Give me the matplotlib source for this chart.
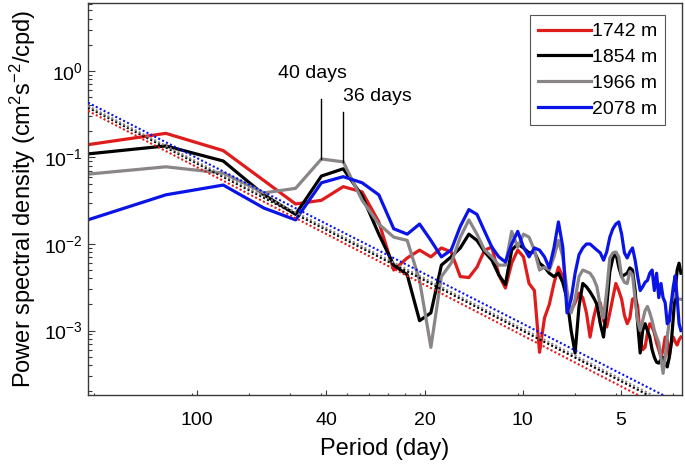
import numpy as np
import matplotlib
matplotlib.use("Agg")
import matplotlib.pyplot as plt
from matplotlib.ticker import FixedLocator, FixedFormatter, NullFormatter

plt.rcParams["font.family"] = ["Liberation Sans", "DejaVu Sans"]
plt.rcParams["mathtext.fontset"] = "custom"
plt.rcParams["mathtext.rm"] = "Liberation Sans"
plt.rcParams["mathtext.it"] = "Liberation Sans:italic"
plt.rcParams["mathtext.bf"] = "Liberation Sans:bold"

# spectral grid: k / 240 cycles per day (k = 1..76)
freq = np.arange(1, 77) / 240.0

depths = ["1742 m", "1854 m", "1966 m", "2078 m"]
colors = ["#e01b1b", "#000000", "#8a8587", "#0a14e6"]

psd_1742 = [0.13, 0.19, 0.12, 0.054, 0.029, 0.032, 0.046, 0.040, 0.018, 0.0050,
            0.0069, 0.0085, 0.0071, 0.0090, 0.0081, 0.0042, 0.0041, 0.0054, 0.0085, 0.0092,
            0.0044, 0.0031, 0.0060, 0.0085, 0.0071, 0.0035, 0.0029, 0.00056, 0.0014, 0.0020,
            0.0035, 0.0054, 0.0042, 0.0024, 0.0017, 0.0021, 0.0027, 0.0024, 0.0016, 0.00084,
            0.0014, 0.0020, 0.0021, 0.0013, 0.0011, 0.0016, 0.0024, 0.0035, 0.0029, 0.0023,
            0.0015, 0.0012, 0.0014, 0.0023, 0.0024, 0.0019, 0.00084, 0.00060, 0.00064, 0.00094,
            0.0012, 0.0011, 0.00094, 0.00072, 0.00060, 0.00049, 0.00060, 0.00084, 0.00078, 0.00049,
            0.00072, 0.00084, 0.00074, 0.00068, 0.00078, 0.00084]

psd_1854 = [0.104, 0.136, 0.091, 0.037, 0.022, 0.061, 0.074, 0.036, 0.013, 0.0057,
            0.0044, 0.0013, 0.0016, 0.0057, 0.0071, 0.0090, 0.013, 0.011, 0.0081, 0.0065,
            0.0044, 0.0034, 0.0085, 0.010, 0.0090, 0.0079, 0.0081, 0.0060, 0.0054, 0.0046,
            0.0042, 0.0046, 0.0036, 0.0023, 0.0010, 0.00055, 0.0019, 0.0035, 0.0032, 0.0028,
            0.0024, 0.0020, 0.0012, 0.00084, 0.0019, 0.0048, 0.0069, 0.0079, 0.0054, 0.0042,
            0.0044, 0.0046, 0.0053, 0.0050, 0.0029, 0.0012, 0.00055, 0.0010, 0.0012, 0.0010,
            0.00084, 0.00060, 0.00049, 0.00043, 0.00042, 0.00046, 0.00049, 0.00042, 0.00038, 0.00049,
            0.00072, 0.0014, 0.0029, 0.0050, 0.0060, 0.0046]

psd_1966 = [0.061, 0.078, 0.066, 0.039, 0.044, 0.096, 0.089, 0.032, 0.017, 0.012,
            0.011, 0.0038, 0.00064, 0.0042, 0.0060, 0.012, 0.019, 0.013, 0.0085, 0.0071,
            0.0057, 0.0057, 0.014, 0.0092, 0.013, 0.012, 0.0085, 0.0050, 0.0054, 0.0050,
            0.0071, 0.011, 0.0071, 0.0029, 0.0016, 0.0023, 0.0042, 0.0050, 0.0048, 0.0046,
            0.0040, 0.0032, 0.0019, 0.0014, 0.0029, 0.0069, 0.0079, 0.0081, 0.0071, 0.0042,
            0.0036, 0.0035, 0.0048, 0.0044, 0.0023, 0.0013, 0.0010, 0.0013, 0.0017, 0.0019,
            0.0016, 0.0013, 0.0010, 0.00084, 0.00072, 0.00049, 0.00032, 0.00049, 0.00084, 0.0013,
            0.0021, 0.0024, 0.0027, 0.0024, 0.0023, 0.0023]

psd_2078 = [0.016, 0.037, 0.048, 0.026, 0.019, 0.051, 0.060, 0.051, 0.037, 0.015,
            0.013, 0.017, 0.011, 0.0071, 0.0085, 0.016, 0.025, 0.022, 0.014, 0.0092,
            0.0071, 0.0062, 0.010, 0.014, 0.0092, 0.0071, 0.0090, 0.0085, 0.0071, 0.0053,
            0.0090, 0.018, 0.0092, 0.0016, 0.0023, 0.0046, 0.0075, 0.0090, 0.010, 0.010,
            0.0092, 0.0085, 0.0079, 0.0065, 0.0081, 0.012, 0.015, 0.017, 0.018, 0.013,
            0.0079, 0.0069, 0.0081, 0.0090, 0.0065, 0.0042, 0.0029, 0.0032, 0.0036, 0.0038,
            0.0046, 0.0050, 0.0029, 0.0046, 0.0024, 0.0035, 0.0024, 0.0021, 0.0012, 0.0013,
            0.0021, 0.0032, 0.0043, 0.0024, 0.0012, 0.0010]

# power-law reference lines: amplitude at 0.01 cpd and slope, per depth
fit_amp = [0.0831, 0.0915, 0.0959, 0.1058]
fit_slope = [-1.947, -1.934, -1.931, -1.916]

period_labels = [100, 40, 20, 10, 5]
minor_freqs = [0.005, 0.01, 0.015, 0.02, 0.025, 0.03, 0.035, 0.04, 0.045,
               0.05, 0.1, 0.15, 0.2, 0.3]

XLIM = (0.00481, 0.3192)
YLIM = (1.8e-4, 6.1)
TICK_SHIFT = 1.036

series = [psd_1742, psd_1854, psd_1966, psd_2078]

fig = plt.figure(figsize=(6.85, 4.66), dpi=100)
ax = fig.add_axes([0.1285, 0.1524, 0.8672, 0.8412])
ax.set_xscale("log")
ax.set_yscale("log")

for label, psd, color in zip(depths, series, colors):
    ax.plot(freq, psd, color=color, lw=2.3, label=label, zorder=2)

f_fit = np.array(XLIM)
for amp, slope, color in zip(fit_amp, fit_slope, colors):
    ax.plot(f_fit, amp * (f_fit / 0.01) ** slope, color=color, lw=1.5,
            linestyle=(0, (1.0, 1.1)), zorder=3)

# spectral peak markers
gray = psd_1966
i40, i36 = 5, 6
ax.plot([freq[i40], freq[i40]], [gray[i40], 0.475], color="black", lw=1.0, zorder=4)
ax.plot([freq[i36], freq[i36]], [gray[i36], 0.336], color="black", lw=1.0, zorder=4)
ax.text(0.0235, 0.93, "40 days", ha="center", va="center", fontsize=14)
ax.text(freq[i36], 0.50, "36 days", ha="left", va="center", fontsize=14)

ax.set_xlim(*XLIM)
ax.set_ylim(*YLIM)

ax.xaxis.set_major_locator(FixedLocator([TICK_SHIFT / p for p in period_labels]))
ax.xaxis.set_major_formatter(FixedFormatter([str(p) for p in period_labels]))
ax.xaxis.set_minor_locator(FixedLocator(minor_freqs))
ax.xaxis.set_minor_formatter(NullFormatter())

spine_c = "#3a3a3a"
for s in ax.spines.values():
    s.set_color(spine_c)
    s.set_linewidth(1.0)
ax.tick_params(axis="x", which="major", direction="in", length=3.4, width=0.8,
               color=spine_c, labelsize=14, pad=12.5)
ax.tick_params(axis="x", which="minor", direction="in", length=1.8, width=0.8,
               color=spine_c)
ax.tick_params(axis="y", which="major", direction="in", length=4.8, width=0.8,
               color=spine_c, labelsize=14, pad=4)
ax.tick_params(axis="y", which="minor", direction="in", length=3.0, width=0.8,
               color=spine_c)

ax.set_xlabel("Period (day)", fontsize=17, labelpad=6)
ax.set_ylabel("Power spectral density (cm$^2$s$^{-2}$/cpd)", fontsize=17, labelpad=4)

leg = ax.legend(loc="upper right", bbox_to_anchor=(0.9714, 0.9694), fontsize=14,
                handlelength=2.75, handletextpad=0.05, labelspacing=0.42,
                borderpad=0.4, borderaxespad=0.0, fancybox=False, framealpha=1)
leg.get_frame().set_edgecolor("#555555")
leg.get_frame().set_linewidth(0.8)

fig.savefig("out.png", dpi=100)
